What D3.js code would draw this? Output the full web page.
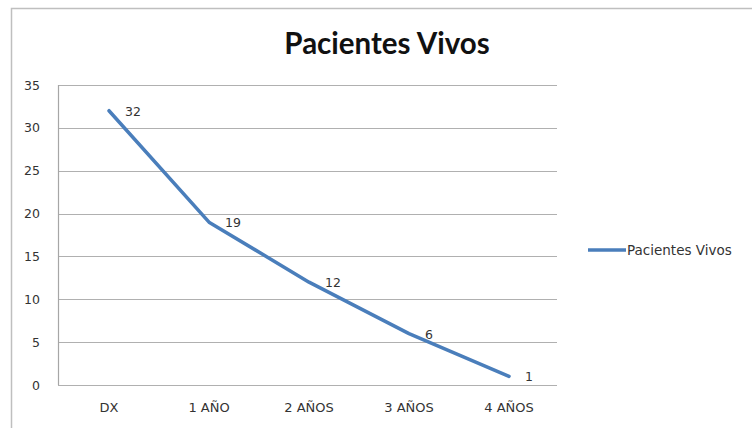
<!DOCTYPE html>
<html>
<head>
<meta charset="utf-8">
<script src="https://cdn.jsdelivr.net/npm/d3@7"></script>
<style>
  body { margin: 0; background: #fff; }
  text { font-family: "DejaVu Sans", Verdana, sans-serif; }
</style>
</head>
<body>
<div id="chart"></div>
<script>
var categories = ["DX", "1 AÑO", "2 AÑOS", "3 AÑOS", "4 AÑOS"];
var vivos = [32, 19, 12, 6, 1];
var yTicks = [0, 5, 10, 15, 20, 25, 30, 35];
var seriesName = "Pacientes Vivos";

var W = 752, H = 428;
var margin = {top: 85, right: 193, bottom: 43, left: 59},
    width = 500,
    height = H - margin.top - margin.bottom;

var svg = d3.select("#chart").append("svg")
    .attr("width", W)
    .attr("height", H);

// outer frame
svg.append("rect")
    .attr("x", 11.5).attr("y", 8.5)
    .attr("width", W).attr("height", H - 4)
    .attr("fill", "none")
    .attr("stroke", "#bfbfbf")
    .attr("stroke-width", 1.5);

// title
svg.append("text")
    .attr("x", 387).attr("y", 54)
    .attr("text-anchor", "middle")
    .style("font-family", "Lato, 'Open Sans', sans-serif")
    .style("font-size", "29.5px")
    .style("font-weight", "bold")
    .style("fill", "#111")
    .text("Pacientes Vivos");

var g = svg.append("g")
    .attr("transform", "translate(" + margin.left + "," + margin.top + ")");

var x = d3.scaleBand().domain(categories).range([0, width]);
var y = d3.scaleLinear().domain([0, 35]).range([height, 0]);

// gridlines
g.selectAll(".grid")
    .data(yTicks)
  .enter().append("line")
    .attr("x1", -1).attr("x2", width - 2)
    .attr("y1", function(d) { return Math.round(y(d)) + 0.5; })
    .attr("y2", function(d) { return Math.round(y(d)) + 0.5; })
    .attr("stroke", "#b0b0b0")
    .attr("stroke-width", 1.2);

// y axis
var yAxis = d3.axisLeft(y).tickValues(yTicks).tickSize(0).tickPadding(19);
g.append("g")
    .call(yAxis)
    .call(function(s) { s.select(".domain").remove(); })
    .selectAll("text")
      .style("font-family", "'DejaVu Sans', sans-serif")
      .style("font-size", "12.5px")
      .style("fill", "#333");

g.append("line")
    .attr("x1", -0.5).attr("x2", -0.5)
    .attr("y1", 0).attr("y2", height)
    .attr("stroke", "#a6a6a6")
    .attr("stroke-width", 1.2);

// x axis
var xAxis = d3.axisBottom(x).tickSize(0).tickPadding(18);
g.append("g")
    .attr("transform", "translate(0," + height + ")")
    .call(xAxis)
    .call(function(s) { s.select(".domain").remove(); })
    .selectAll("text")
      .style("font-family", "'DejaVu Sans', sans-serif")
      .style("font-size", "13px")
      .style("fill", "#333");

// line
var line = d3.line()
    .x(function(d, i) { return x(categories[i]) + x.bandwidth() / 2; })
    .y(function(d) { return y(d); });

g.append("path")
    .datum(vivos)
    .attr("d", line)
    .attr("fill", "none")
    .attr("stroke", "#4a7ebb")
    .attr("stroke-width", 3.5)
    .attr("stroke-linejoin", "round")
    .attr("stroke-linecap", "round");

// value labels
g.selectAll(".lbl")
    .data(vivos)
  .enter().append("text")
    .attr("x", function(d, i) { return x(categories[i]) + x.bandwidth() / 2 + 16; })
    .attr("y", function(d) { return y(d) + 5; })
    .style("font-family", "'DejaVu Sans', sans-serif")
    .style("font-size", "12.5px")
    .style("fill", "#333")
    .text(function(d) { return d; });

// legend
var lg = svg.append("g").attr("transform", "translate(588,250)");
lg.append("line")
    .attr("x1", 0).attr("x2", 38)
    .attr("y1", 0).attr("y2", 0)
    .attr("stroke", "#4a7ebb")
    .attr("stroke-width", 3.5);
lg.append("text")
    .attr("x", 39).attr("y", 5)
    .style("font-family", "'DejaVu Sans', sans-serif")
    .style("font-size", "13.5px")
    .style("fill", "#333")
    .text(seriesName);
</script>
</body>
</html>
